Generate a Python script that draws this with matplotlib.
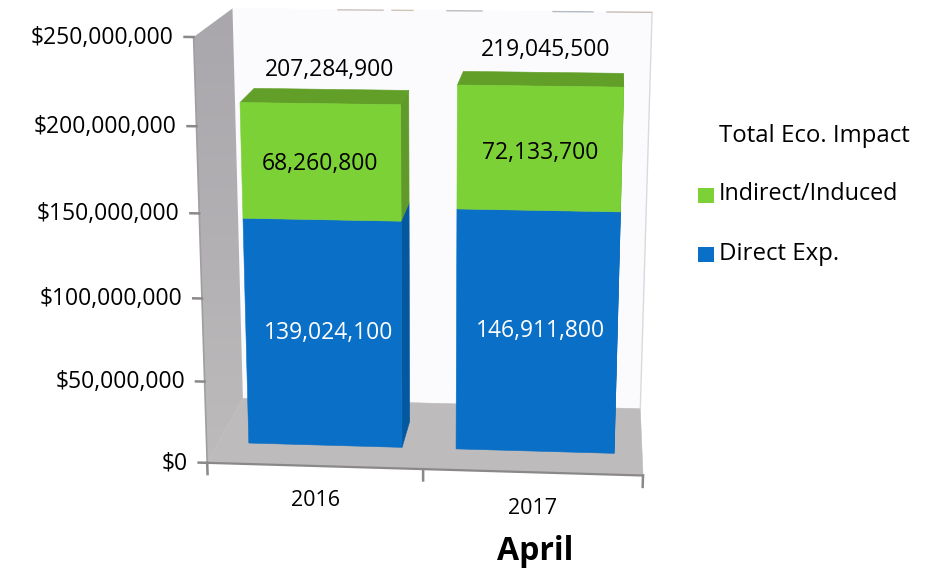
import matplotlib
matplotlib.use("Agg")
import matplotlib.pyplot as plt
import numpy as np
from matplotlib.colors import LinearSegmentedColormap
from matplotlib.patches import Polygon

plt.rcParams['font.family'] = ['Open Sans', 'DejaVu Sans']

years = ['2016', '2017']
direct_exp = [139024100, 146911800]
indirect_induced = [68260800, 72133700]
totals = [207284900, 219045500]
axis_ticks = [0, 50000000, 100000000, 150000000, 200000000, 250000000]
tick_labels = ['$0', '$50,000,000', '$100,000,000', '$150,000,000', '$200,000,000', '$250,000,000']

# box coordinates (category, value, depth) against where they land in the canvas
box_pts = np.array([
    (0, 0, 0), (2, 0, 0), (0, 250e6, 0), (0, 0, 1), (2, 0, 1), (0, 250e6, 1), (2, 250e6, 1),
    (.145, 0, .3), (.875, 0, .3), (1.13, 0, .3), (1.87, 0, .3),
    (.145, 207.3e6, .3), (.875, 207.3e6, .3), (1.13, 219e6, .3), (1.87, 219e6, .3),
    (.145, 207.3e6, .7), (.875, 207.3e6, .7), (1.13, 219e6, .7), (1.87, 219e6, .7),
])
canvas_pts = np.array([
    (208, 462), (643, 477), (195, 37), (244, 400), (640, 407), (234, 9), (652, 12),
    (247, 442), (402, 447), (457, 449), (614, 454),
    (239, 102), (402, 105), (458, 85), (622, 87),
    (250, 88), (408, 90), (465, 72), (624, 74),
])


def fit_camera(box, canvas):
    # plain DLT, values scaled to 0..2.5 so the system stays well conditioned
    rows = []
    for (u, v, d), (x, y) in zip(box, canvas):
        v = v / 1e8
        rows.append([u, v, d, 1, 0, 0, 0, 0, -x * u, -x * v, -x * d, -x])
        rows.append([0, 0, 0, 0, u, v, d, 1, -y * u, -y * v, -y * d, -y])
    return np.linalg.svd(np.array(rows, dtype=float))[2][-1].reshape(3, 4)


camera = fit_camera(box_pts, canvas_pts)


def project(u, v, d):
    px = camera @ np.array([u, v / 1e8, d, 1.0])
    return px[0] / px[2], px[1] / px[2]


def face(ax, corners, color, zorder=2):
    patch = Polygon([project(*c) for c in corners], closed=True, fc=color, ec=color,
                    lw=0.4, zorder=zorder)
    ax.add_patch(patch)
    return patch


def draw_block(ax, u0, u1, v0, v1, d0, d1, front, side, top=None):
    face(ax, [(u1, v0, d0), (u1, v0, d1), (u1, v1, d1), (u1, v1, d0)], side, 3)
    if top is not None:
        face(ax, [(u0, v1, d0), (u1, v1, d0), (u1, v1, d1), (u0, v1, d1)], top, 3)
    face(ax, [(u0, v0, d0), (u1, v0, d0), (u1, v1, d0), (u0, v1, d0)], front, 4)


fig = plt.figure(figsize=(9.26, 5.71), dpi=100)
ax = fig.add_axes([0, 0, 1, 1])

vmax = axis_ticks[-1]

# walls and floor
face(ax, [(0, 0, 1), (2, 0, 1), (2, vmax, 1), (0, vmax, 1)], '#fbfbfd', 1)
face(ax, [(0, 0, 0), (2, 0, 0), (2, 0, 1), (0, 0, 1)], '#bdbbbb', 1)

# side wall fades from dark grey at the top into the floor colour
wall = face(ax, [(0, 0, 0), (0, 0, 1), (0, vmax, 1), (0, vmax, 0)], 'none', 1)
wall_cmap = LinearSegmentedColormap.from_list('wall', ['#a9a7ab', '#b2b0b3', '#bdbbbb'])
shade = ax.imshow(np.linspace(0, 1, 64).reshape(-1, 1), cmap=wall_cmap, aspect='auto',
                  extent=(190, 250, 470, 5), zorder=1.5)
shade.set_clip_path(wall)

ax.set_xlim(0, 926)
ax.set_ylim(571, 0)
ax.axis('off')

# the frame lines that survive along the back wall
for x0, x1, c in [(338, 383, '#c9c2bc'), (392, 413, '#d0c4ba'), (447, 482, '#b9bdbd'),
                  (553, 593, '#b5bcc0'), (607, 652, '#c4bdb6')]:
    ax.plot([x0, x1], [9 + (x0 - 234) * .008, 9 + (x1 - 234) * .008], color=c, lw=1, zorder=2)
ax.plot(*zip(project(2, vmax, 1), project(2, 0, 1)), color='#d8dadd', lw=1, zorder=2)

# axis lines and ticks
ax.plot(*zip(project(0, 0, 0), project(2, 0, 0)), color='#8a8888', lw=1.6, zorder=5)
ax.plot(*zip(project(0, 0, 0), project(0, vmax, 0)), color='#a09ea0', lw=1.2, zorder=5)
for v, lab in zip(axis_ticks, tick_labels):
    ax.plot(*zip(project(-.04, v, 0), project(0, v, 0)), color='#8a8888', lw=1.8, zorder=5)
    x, y = project(-.09, v, 0)
    ax.text(x, y + 1, lab, ha='right', va='center', fontsize=16.5, color='black')
for u in [0, 1, 2]:
    ax.plot(*zip(project(u, 0, 0), project(u, -7e6, 0)), color='#8a8888', lw=1.8, zorder=5)

# stacked bars
bar_left = [.145, 1.13]
bar_right = [.875, 1.87]
blue_nudge = [(5, -1), (4, -2)]
green_nudge = [(-1, 2), (1, 4)]
total_nudge = [(-2, -19), (3, -22)]
for i in range(2):
    u0, u1 = bar_left[i], bar_right[i]
    split = direct_exp[i]
    top = direct_exp[i] + indirect_induced[i]
    draw_block(ax, u0, u1, 0, split, .3, .7, '#0a6fc6', '#04589f')
    draw_block(ax, u0, u1, split, top, .3, .7, '#7cd136', '#5f9a2a', '#629f29')
    mid = (u0 + u1) / 2

    x, y = project(mid, split / 2, .3)
    ax.text(x + blue_nudge[i][0], y + blue_nudge[i][1], f'{direct_exp[i]:,}', ha='center',
            va='center', color='white', fontsize=16.5, zorder=6)
    x, y = project(mid, split + indirect_induced[i] / 2, .3)
    ax.text(x + green_nudge[i][0], y + green_nudge[i][1], f'{indirect_induced[i]:,}', ha='center',
            va='center', color='black', fontsize=16.5, zorder=6)
    x, y = project(mid, top, .7)
    ax.text(x + total_nudge[i][0], y + total_nudge[i][1], f'{totals[i]:,}', ha='center',
            va='center', color='black', fontsize=16.5, zorder=6)

for year, (x, y) in zip(years, [(315, 500), (533, 508)]):
    ax.text(x, y, year, ha='center', va='center', fontsize=15.5)
ax.text(535, 552, 'April', ha='center', va='center', fontsize=23, fontweight='bold')

# legend, laid out by hand
ax.text(719, 136, 'Total Eco. Impact', va='center', fontsize=17.3)
ax.text(719, 194, 'Indirect/Induced', va='center', fontsize=16.8)
ax.text(719, 254, 'Direct Exp.', va='center', fontsize=17.3)
ax.fill_between([698, 714], 188, 203, color='#7cd136', lw=0)
ax.fill_between([698, 714], 247, 262, color='#0a6fc6', lw=0)

fig.savefig('out.png', dpi=100)
